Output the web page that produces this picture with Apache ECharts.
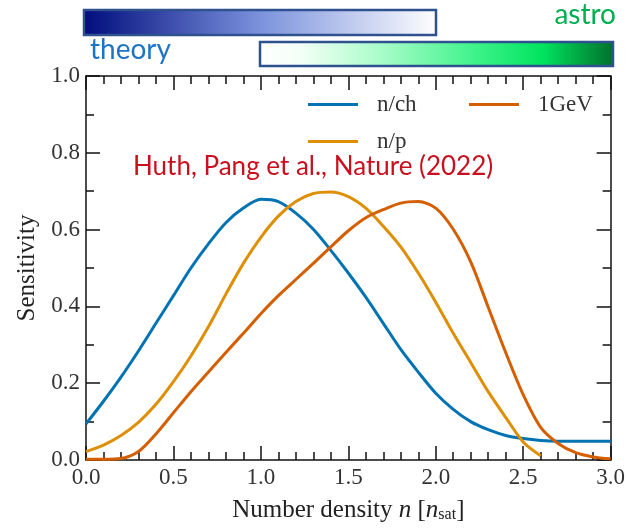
<!DOCTYPE html>
<html><head><meta charset="utf-8">
<script src="https://cdn.jsdelivr.net/npm/echarts@6/dist/echarts.min.js"></script>
<style>html,body{margin:0;padding:0;background:#fff}#c{width:628px;height:528px}</style>
</head><body><div id="c"></div>
<script>
// density grid (n / n_sat)
const xs = [0.0,0.1,0.2,0.3,0.4,0.5,0.6,0.7,0.8,0.9,1.0,1.1,1.2,1.3,1.4,1.5,1.6,1.7,1.8,1.9,2.0,2.1,2.2,2.3,2.4,2.5,2.6,2.7,2.8,2.9,3.0];
const nch = [0.094,0.153,0.216,0.284,0.356,0.428,0.500,0.563,0.618,0.656,0.679,0.673,0.643,0.601,0.546,0.487,0.424,0.356,0.288,0.229,0.174,0.132,0.100,0.079,0.064,0.056,0.051,0.049,0.049,0.049,0.049];
const np  = [0.022,0.039,0.064,0.098,0.145,0.204,0.271,0.347,0.432,0.512,0.580,0.635,0.673,0.694,0.698,0.686,0.656,0.609,0.555,0.487,0.411,0.330,0.254,0.178,0.111,0.047,0.011];
const gev = [0.002,0.002,0.004,0.022,0.068,0.123,0.178,0.229,0.280,0.330,0.381,0.428,0.470,0.512,0.555,0.597,0.631,0.652,0.669,0.673,0.656,0.601,0.516,0.398,0.280,0.170,0.085,0.043,0.019,0.008,0.003];
const names = ['n/ch','n/p','1GeV'];
const colors = ['#0173B2','#DE8F05','#D55E00'];

const pairs = arr => arr.map((v,i)=>[xs[i],v]);
const serif = 'Liberation Serif';
const sans = 'Lato';

function frameAxis(split, extra){
  return Object.assign({
    type:'value',
    axisLine:{onZero:false,lineStyle:{color:'#111',width:1.5}},
    axisTick:{show:true,inside:true,length:14,lineStyle:{color:'#111',width:1.5}},
    minorTick:{show:true,splitNumber:split,length:8,lineStyle:{color:'#111',width:1.5}},
    splitLine:{show:false}
  },extra);
}
const labelStyle = {fontFamily:serif,fontSize:23,color:'#333',margin:6,formatter:v=>v.toFixed(1)};

const chart = echarts.init(document.getElementById('c'));
chart.setOption({
  animation:false,
  grid:{left:86,right:14,top:76,bottom:57},
  xAxis:[
    frameAxis(5,{min:0,max:3,interval:0.5,position:'bottom',
      name:'Number density {i|n} [{i|n}{sub|sat}]',nameLocation:'middle',nameGap:38,
      nameTextStyle:{fontFamily:serif,fontSize:25,color:'#222',
        rich:{i:{fontFamily:serif,fontStyle:'italic',fontSize:25,color:'#222'},
              sub:{fontFamily:serif,fontSize:16,color:'#222',verticalAlign:'bottom',padding:[9,0,0,0]}}},
      axisLabel:labelStyle}),
    frameAxis(5,{min:0,max:3,interval:0.5,position:'top',axisLabel:{show:false}})
  ],
  yAxis:[
    frameAxis(2,{min:0,max:1,interval:0.2,position:'left',
      name:'Sensitivity',nameLocation:'middle',nameGap:41,nameRotate:90,
      nameTextStyle:{fontFamily:serif,fontSize:25,color:'#222'},
      axisLabel:labelStyle}),
    frameAxis(2,{min:0,max:1,interval:0.2,position:'right',axisLabel:{show:false}})
  ],
  legend:[
    {data:['n/ch'],left:308,top:93},
    {data:['1GeV'],left:469,top:93},
    {data:['n/p'],left:308,top:130}
  ].map(l=>Object.assign(l,{orient:'horizontal',icon:'rect',itemWidth:50,itemHeight:3,padding:0,
      textStyle:{fontFamily:serif,fontSize:23,color:'#333',padding:[0,0,0,14]}})),
  series:[
    {name:names[0],type:'line',data:pairs(nch),color:colors[0]},
    {name:names[1],type:'line',data:pairs(np),color:colors[1]},
    {name:names[2],type:'line',data:pairs(gev),color:colors[2]}
  ].map(s=>Object.assign(s,{showSymbol:false,smooth:0.3,lineStyle:{width:3},xAxisIndex:0,yAxisIndex:0})),
  graphic:[
    {type:'rect',shape:{x:84,y:10,width:352,height:25},
      style:{fill:new echarts.graphic.LinearGradient(0,0,1,0,[
        {offset:0,color:'#000c7c'},{offset:0.5,color:'#7b92dc'},{offset:1,color:'#ffffff'}]),
        stroke:'#2f528f',lineWidth:2.5}},
    {type:'rect',shape:{x:260,y:42,width:353,height:24},
      style:{fill:new echarts.graphic.LinearGradient(0,0,1,0,[
        {offset:0,color:'#ffffff'},{offset:0.12,color:'#f2fff6'},{offset:0.35,color:'#a6fcc8'},
        {offset:0.62,color:'#3af288'},{offset:0.8,color:'#00e35e'},{offset:1,color:'#006f2c'}]),
        stroke:'#2f528f',lineWidth:2.5}},
    {type:'text',left:90,top:36,style:{text:'theory',fontFamily:sans,fontSize:28,fill:'#2074c4'}},
    {type:'text',right:12,top:1,style:{text:'astro',fontFamily:sans,fontSize:28,fill:'#00b050'}},
    {type:'text',left:133,top:154,style:{text:'Huth, Pang et al., Nature (2022)',fontFamily:sans,fontSize:26,fill:'#c8101e'}}
  ]
});
</script></body></html>
